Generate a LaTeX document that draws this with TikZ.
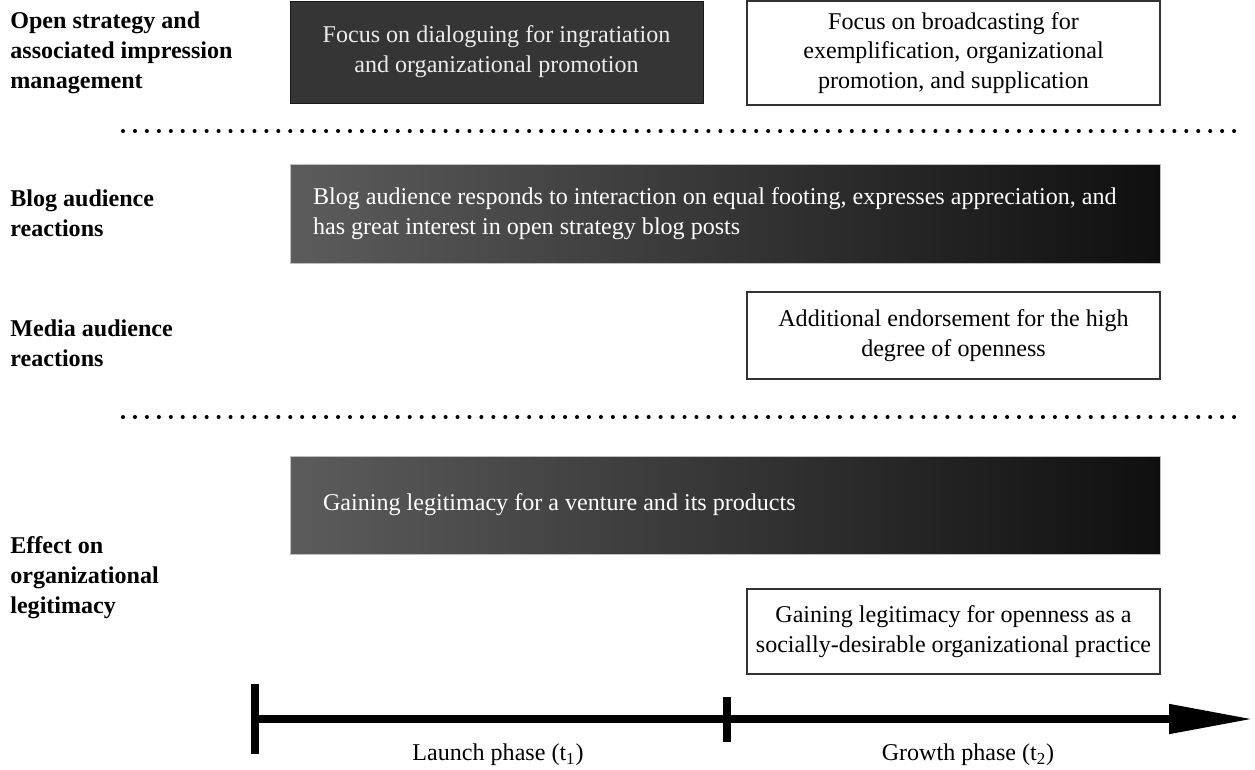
\documentclass[tikz,border=0pt]{standalone}
\usepackage{fontspec}
\setmainfont{Liberation Serif}
\usepackage{tikz}
\usetikzlibrary{arrows.meta}
\definecolor{darkbox}{HTML}{353535}
\tikzstyle{txt} = [font=\fontsize{13.7}{17}\selectfont]
\tikzstyle{rowlabel} = [txt, font=\fontsize{13.7}{17}\selectfont\bfseries, anchor=west, align=left, inner sep=0]
\tikzstyle{whitebox} = [txt, draw=black!80, line width=0.8pt, fill=white, align=center, minimum width=8.26cm]
\tikzstyle{shadebox} = [txt, draw=black!25, line width=0.4pt, left color=black!64, right color=black!94, text=white, align=flush left, minimum width=17.4cm]
\tikzstyle{sep} = [line width=2.3pt, line cap=round, dash pattern=on 0pt off 6.8pt]
\tikzstyle{axis} = [line width=4.5pt]

\begin{document}
\begin{tikzpicture}[x=0.02cm, y=-0.02cm]
	\useasboundingbox (0,0) rectangle (1255,769);
	% row labels
	\node[rowlabel] (lopen) at (10,52.5) {Open strategy and\\associated impression\\management};
	\node[rowlabel] (lblog) at (10,213) {Blog audience\\reactions};
	\node[rowlabel] (lmedia) at (10,343) {Media audience\\reactions};
	\node[rowlabel] (leffect) at (10,578) {Effect on\\organizational\\legitimacy};
	% boxes
	\node[txt, draw=black!90, fill=darkbox, text=white!92!black, align=center, minimum width=8.26cm, minimum height=2.04cm] (dialog) at (496.5,52) {Focus on dialoguing for ingratiation\\and organizational promotion};
	\node[whitebox, minimum height=2.08cm] (broad) at (953.5,53) {Focus on broadcasting for\\exemplification, organizational\\promotion, and supplication};
	\draw[sep] (123,131) -- (1245,131);
	\node[shadebox, minimum height=1.98cm, text width=16.48cm] (blog) at (725,213.5) {Blog audience responds to interaction on equal footing, expresses appreciation, and\\has great interest in open strategy blog posts};
	\node[whitebox, minimum height=1.74cm] (media) at (953.5,335.5) {Additional endorsement for the high\\degree of openness};
	\draw[sep] (123,417) -- (1245,417);
	\node[shadebox, minimum height=1.96cm, text width=16.08cm, text depth=0.12cm] (venture) at (725,505) {Gaining legitimacy for a venture and its products};
	\node[whitebox, minimum height=1.7cm] (practice) at (953.5,631.5) {Gaining legitimacy for openness as a\\socially-desirable organizational practice};
	% timeline
	\coordinate (t0) at (255,719);
	\coordinate (t1) at (727,719);
	\coordinate (tend) at (1253,719);
	\draw[axis, -{Triangle[length=1.68cm, width=0.56cm]}] (t0) -- (tend);
	\draw[axis] ([yshift=0.7cm]t0) -- ([yshift=-0.7cm]t0);
	\draw[axis] ([yshift=0.44cm]t1) -- ([yshift=-0.46cm]t1);
	\node[txt] (launch) at (498,755) {Launch phase (t\textsubscript{1})};
	\node[txt] (growth) at (968,755) {Growth phase (t\textsubscript{2})};
\end{tikzpicture}
\end{document}
